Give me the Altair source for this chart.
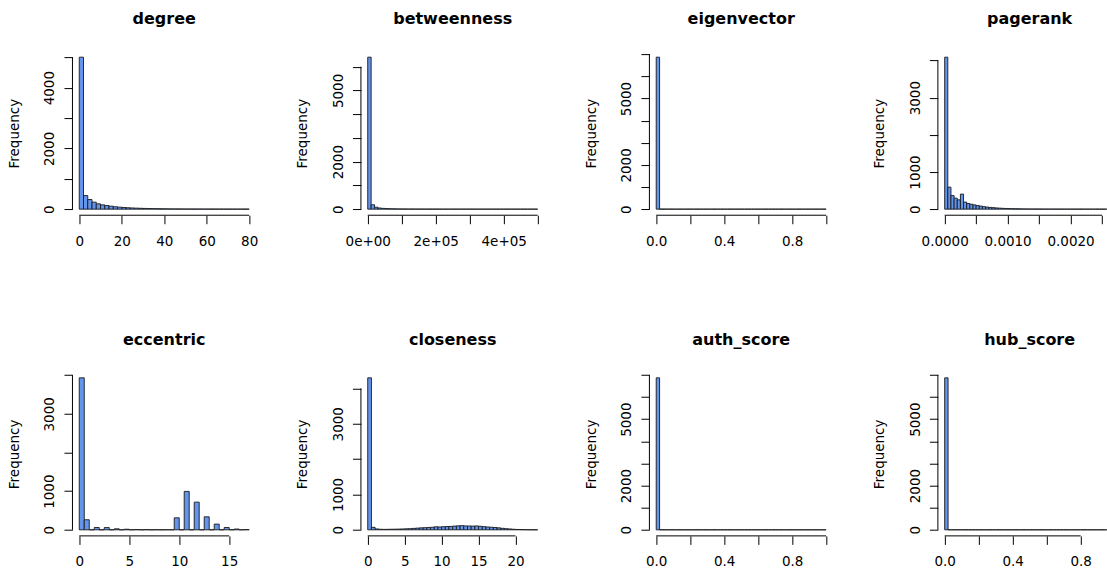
import json

import altair as alt
import pandas as pd

FONT = "DejaVu Sans"
BAR_FILL = "#6495ED"
BAR_EDGE = "#1a1a1a"

PLOT_W = 183.6      # width of one plotting region
PLOT_H = 164.2      # height of one plotting region
LAST_COL_W = 169.0  # rightmost column is cut at the page edge
COL_GAP = 104.6
ROW_GAP = 155.8

# ---------------- histogram counts (one bin per entry) ----------------
degree_counts = [5005, 447, 316, 230, 174, 141, 118, 99, 80, 66,
                 55, 46, 39, 33, 28, 24, 20, 17, 14, 12,
                 10, 9, 8, 7, 6, 5, 5, 4, 4, 3,
                 3, 3, 2, 2, 2, 1, 1, 1, 1, 1]
betweenness_counts = [6400, 185, 82, 48, 33, 24, 18, 14, 11, 9,
                      7, 6, 5, 4, 4, 3, 3, 2, 2, 2,
                      2, 1, 1, 1, 1, 1, 1, 1, 0, 1,
                      0, 1, 0, 0, 1, 0, 0, 1, 0, 0,
                      0, 1, 0, 0, 0, 0, 0, 0, 0, 1]
eigenvector_counts = [6865, 3, 2, 1, 1, 1, 0, 1, 0, 1,
                      0, 0, 1, 0, 0, 0, 0, 1, 0, 0,
                      0, 0, 0, 1, 0, 0, 0, 0, 0, 0,
                      0, 0, 1, 0, 0, 0, 0, 0, 0, 0,
                      0, 0, 0, 0, 0, 0, 0, 0, 0, 1]
pagerank_counts = [4090, 592, 366, 296, 250, 405, 190, 152, 132, 115,
                   97, 82, 68, 56, 47, 40, 33, 27, 22, 18,
                   15, 12, 10, 8, 7, 6, 5, 4, 4, 3,
                   3, 2, 2, 2, 2, 1, 1, 1, 1, 1,
                   1, 1, 0, 1, 0, 1, 0, 0, 1, 0,
                   0, 0, 0, 1]
eccentric_counts = [3931, 260, 0, 60, 0, 58, 0, 25, 0, 15,
                    0, 6, 0, 4, 0, 3, 0, 2, 0, 310,
                    0, 993, 0, 716, 0, 336, 0, 147, 0, 60,
                    0, 20, 0, 5]
closeness_counts = [4300, 70, 25, 15, 12, 14, 16, 18, 20, 24,
                    28, 32, 40, 48, 55, 60, 66, 72, 85, 80,
                    88, 92, 95, 105, 112, 118, 110, 108, 105, 110,
                    100, 90, 80, 72, 65, 55, 42, 32, 24, 16,
                    10, 7, 4, 3, 2, 1]
auth_counts = [6868, 2, 1, 1, 0, 1, 0, 0, 0, 0,
               0, 0, 0, 1, 0, 0, 0, 0, 0, 0,
               0, 0, 0, 0, 0, 0, 0, 0, 0, 0,
               0, 0, 0, 0, 0, 0, 0, 0, 0, 0,
               0, 0, 0, 0, 0, 0, 0, 0, 0, 1]
hub_counts = [6868, 2, 1, 1, 0, 1, 0, 0, 0, 0,
              0, 0, 0, 0, 1, 0, 0, 0, 0, 0,
              0, 0, 0, 0, 0, 0, 0, 0, 0, 0,
              0, 0, 0, 0, 0, 0, 0, 0, 0, 0,
              0, 0, 0, 0, 0, 0, 0, 0, 0, 1]

# ---------------- bin breaks: (first, last, width) ----------------
degree_breaks = (0, 80, 2)
betweenness_breaks = (0, 500000, 10000)
eigenvector_breaks = (0, 1, 0.02)
pagerank_breaks = (0, 0.0027, 0.00005)
eccentric_breaks = (0, 17, 0.5)
closeness_breaks = (0, 23, 0.5)
auth_breaks = (0, 1, 0.02)
hub_breaks = (0, 1, 0.02)

# ---------------- axis ticks and the labels printed at them ----------------
degree_xticks = [0, 20, 40, 60, 80]
degree_xlabels = ["0", "20", "40", "60", "80"]
betweenness_xticks = [0, 100000, 200000, 300000, 400000, 500000]
betweenness_xlabels = ["0e+00", "", "2e+05", "", "4e+05", ""]
unit_xticks = [0, 0.2, 0.4, 0.6, 0.8, 1.0]
unit_xlabels = ["0.0", "", "0.4", "", "0.8", ""]
pagerank_xticks = [0, 0.0005, 0.001, 0.0015, 0.002, 0.0025]
pagerank_xlabels = ["0.0000", "", "0.0010", "", "0.0020", ""]
eccentric_xticks = [0, 5, 10, 15]
eccentric_xlabels = ["0", "5", "10", "15"]
closeness_xticks = [0, 5, 10, 15, 20]
closeness_xlabels = ["0", "5", "10", "15", "20"]

y5_ticks = [0, 1000, 2000, 3000, 4000, 5000]
y5_labels = ["0", "", "2000", "", "4000", ""]
y6_ticks = [0, 1000, 2000, 3000, 4000, 5000, 6000]
y6_labels = ["0", "", "2000", "", "", "5000", ""]
y7_ticks = [0, 1000, 2000, 3000, 4000, 5000, 6000, 7000]
y7_labels = ["0", "", "2000", "", "", "5000", "", ""]
y4_ticks = [0, 1000, 2000, 3000, 4000]
y4_labels = ["0", "1000", "", "3000", ""]


def label_expr(values, labels):
    return f"{json.dumps(labels)}[indexof({json.dumps(values)}, datum.value)]"


def histogram(title, counts, breaks, xticks, xlabels, yticks, ylabels, width=PLOT_W):
    first, last, step = breaks
    lefts = [first + i * step for i in range(len(counts))]
    bins = pd.DataFrame({
        "x0": lefts,
        "x1": [v + step for v in lefts],
        "count": counts,
        "base": [0] * len(counts),
    })

    # R-style plotting region: data range padded by 4% on each side
    span = last - first
    lo = first - 0.04 * span
    hi_full = last + 0.04 * span
    hi = lo + (hi_full - lo) * width / PLOT_W
    ymax = max(counts)
    xscale = alt.Scale(domain=[lo, hi], nice=False, zero=False)
    yscale = alt.Scale(domain=[-0.04 * ymax, 1.04 * ymax], nice=False, zero=False)

    x_axis = alt.Axis(
        values=xticks, labelExpr=label_expr(xticks, xlabels),
        domain=False, grid=False, ticks=True, tickSize=8.5, tickColor="black", tickWidth=1,
        labelAngle=0, labelAlign="center", labelBaseline="alphabetic", labelPadding=21.3,
        labelFont=FONT, labelFontSize=13.5, labelColor="black",
        labelFlush=False, labelOverlap=False, title=None,
    )
    y_axis = alt.Axis(
        values=yticks, labelExpr=label_expr(yticks, ylabels),
        domain=False, grid=False, ticks=True, tickSize=8.5, tickColor="black", tickWidth=1,
        labelAngle=270, labelAlign="center", labelBaseline="alphabetic", labelPadding=10,
        labelFont=FONT, labelFontSize=13.5, labelColor="black",
        labelFlush=False, labelOverlap=False,
        title="Frequency", titleFont=FONT, titleFontSize=13.5, titleFontWeight="normal",
        titleColor="black", titleAngle=270, titleAlign="center", titleBaseline="middle",
        titleX=-58, titleY=PLOT_H / 2,
    )

    def xenc(field):
        return alt.X(field, type="quantitative", scale=xscale, axis=x_axis)

    def yenc(field):
        return alt.Y(field, type="quantitative", scale=yscale, axis=y_axis)

    bars = alt.Chart(bins).mark_rect(
        fill=BAR_FILL, stroke=BAR_EDGE, strokeWidth=0.9, clip=True
    ).encode(x=xenc("x0"), x2="x1:Q", y=yenc("count"), y2="base:Q")

    # axis lines run from the first to the last tick, as in base R graphics
    x_line = alt.Chart(pd.DataFrame({"x0": [xticks[0]], "x1": [min(xticks[-1], hi)]})).mark_rule(
        color="black", strokeWidth=1
    ).encode(x=xenc("x0"), x2="x1:Q", y=alt.value(PLOT_H))
    y_line = alt.Chart(pd.DataFrame({"count": [yticks[0]], "base": [yticks[-1]]})).mark_rule(
        color="black", strokeWidth=1
    ).encode(y=yenc("count"), y2="base:Q", x=alt.value(0))

    return alt.layer(bars, x_line, y_line).properties(
        width=width,
        height=PLOT_H,
        title=alt.TitleParams(
            text=title, font=FONT, fontSize=16, fontWeight="bold", color="black",
            anchor="start", align="center", dx=PLOT_W / 2,
            baseline="alphabetic", offset=11, frame="group",
        ),
    )


panels = [
    histogram("degree", degree_counts, degree_breaks, degree_xticks, degree_xlabels, y5_ticks, y5_labels),
    histogram("betweenness", betweenness_counts, betweenness_breaks, betweenness_xticks, betweenness_xlabels, y6_ticks, y6_labels),
    histogram("eigenvector", eigenvector_counts, eigenvector_breaks, unit_xticks, unit_xlabels, y7_ticks, y7_labels),
    histogram("pagerank", pagerank_counts, pagerank_breaks, pagerank_xticks, pagerank_xlabels, y4_ticks, y4_labels, width=LAST_COL_W),
    histogram("eccentric", eccentric_counts, eccentric_breaks, eccentric_xticks, eccentric_xlabels, y4_ticks, y4_labels),
    histogram("closeness", closeness_counts, closeness_breaks, closeness_xticks, closeness_xlabels, y4_ticks, y4_labels),
    histogram("auth_score", auth_counts, auth_breaks, unit_xticks, unit_xlabels, y7_ticks, y7_labels),
    histogram("hub_score", hub_counts, hub_breaks, unit_xticks[:5], unit_xlabels[:5], y7_ticks, y7_labels, width=LAST_COL_W),
]

chart = alt.concat(
    *panels, columns=4, spacing={"row": ROW_GAP, "column": COL_GAP}, bounds="flush"
).properties(
    padding={"left": 7.5, "top": 11, "right": 0, "bottom": 0},
    background="white",
).configure_view(stroke=None)

chart.save("out.html", embed_options={"renderer": "svg", "actions": False})
